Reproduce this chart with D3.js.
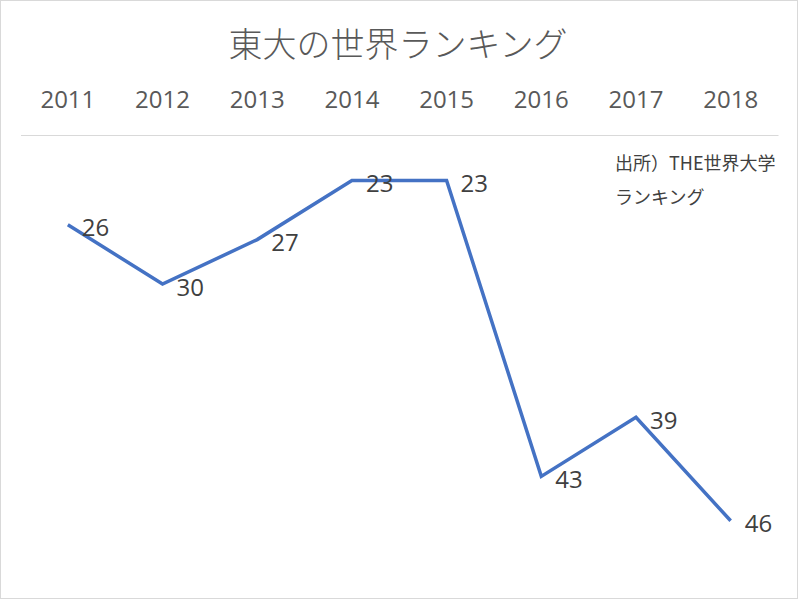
<!DOCTYPE html>
<html><head><meta charset="utf-8">
<script src="https://cdn.jsdelivr.net/npm/d3@7"></script>
<style>body{margin:0;background:#fff;}</style>
</head><body>
<svg id="c" width="800" height="600"></svg>
<script>
const years = ["2011","2012","2013","2014","2015","2016","2017","2018"];
const ranks = [26, 30, 27, 23, 23, 43, 39, 46];
const title = "東大の世界ランキング";
const sourceLines = ["出所）THE世界大学", "ランキング"];

const svg = d3.select("#c");
svg.append("rect").attr("x",0.5).attr("y",0.5).attr("width",797).attr("height",598)
  .attr("fill","#fff").attr("stroke","#d9d9d9").attr("stroke-width",1);

const x = d3.scaleBand().domain(years).range([20.5, 778]);
const y = d3.scaleLinear().domain([20, 50]).range([136, 580]);

svg.append("text").attr("x",398).attr("y",42).attr("text-anchor","middle")
  .attr("dominant-baseline","central")
  .style("font-family","'Noto Sans CJK JP'").style("font-weight",300)
  .style("font-size","34px").attr("fill","#595959").text(title);

const ax = svg.append("g").attr("transform","translate(0,135)")
  .call(d3.axisTop(x).tickSize(0).tickPadding(0));
ax.select(".domain").attr("stroke","#d9d9d9").attr("stroke-width",1.2);
ax.selectAll(".tick text").attr("y",-35).attr("dy","0.35em")
  .style("font-family","'Open Sans'").style("font-size","24px").attr("fill","#595959");

const line = d3.line().x((d,i)=>x(years[i])+x.bandwidth()/2).y(d=>y(d));
svg.append("path").datum(ranks).attr("d",line).attr("fill","none")
  .attr("stroke","#4472C4").attr("stroke-width",3.5).attr("stroke-linejoin","miter");

svg.selectAll(".lbl").data(ranks).join("text").attr("class","lbl")
  .attr("x",(d,i)=>x(years[i])+x.bandwidth()/2+14).attr("y",d=>y(d)+2)
  .attr("dominant-baseline","central")
  .style("font-family","'Open Sans'").style("font-size","24px").attr("fill","#404040")
  .text(d=>d);

svg.selectAll(".src").data(sourceLines).join("text").attr("class","src")
  .attr("x",615).attr("y",(d,i)=>162+i*34).attr("dominant-baseline","central")
  .style("font-family","'Noto Sans CJK JP'").style("font-size","18px").attr("fill","#404040")
  .text(d=>d);
</script>
</body></html>
